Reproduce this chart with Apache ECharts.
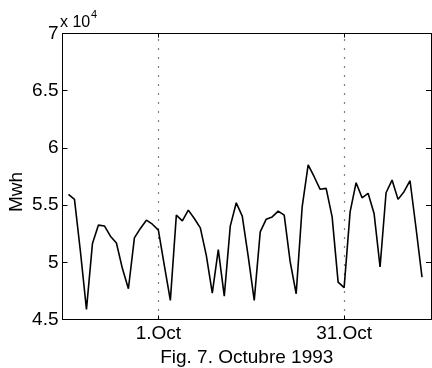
<!DOCTYPE html>
<html>
<head>
<meta charset="utf-8">
<script src="https://cdn.jsdelivr.net/npm/echarts@6/dist/echarts.min.js"></script>
<style>
  html, body { margin: 0; padding: 0; background: #fff; }
  #chart { width: 432px; height: 368px; }
</style>
</head>
<body>
<div id="chart"></div>
<script>
// Daily electricity demand, 16 Sep - 14 Nov 1993 (day 0 = 1 October)
const days = [
  -15, -14, -13, -12, -11, -10, -9, -8, -7, -6, -5, -4, -3, -2, -1,
  0, 1, 2, 3, 4, 5, 6, 7, 8, 9, 10, 11, 12, 13, 14,
  15, 16, 17, 18, 19, 20, 21, 22, 23, 24, 25, 26, 27, 28, 29,
  30, 31, 32, 33, 34, 35, 36, 37, 38, 39, 40, 41, 42, 43, 44
];
const demandMwh = [
  55940, 55500, 50900, 45880, 51640, 53250, 53180, 52280, 51690, 49450, 47690, 52130, 52960, 53680, 53330,
  52810, 49700, 46670, 54120, 53620, 54560, 53830, 53010, 50610, 47310, 51110, 47040, 53160, 55200, 54040,
  50500, 46670, 52660, 53770, 53970, 54470, 54120, 50030, 47250, 54850, 58510, 57480, 56380, 56460, 53970,
  48270, 47780, 54410, 56960, 55640, 56030, 54270, 49590, 56080, 57190, 55500, 56170, 57130, 53000, 48710
];
// Reference dates marked with dotted lines
const markDays = [0, 31];
const markLabels = ['1.Oct', '31.Oct'];
const yTicks = [45000, 50000, 55000, 60000, 65000, 70000];

const FONT = "'Liberation Sans', Arial, Helvetica, sans-serif";
const INK = '#000';

const chart = echarts.init(document.getElementById('chart'), null, { renderer: 'canvas' });

const points = days.map((d, i) => [d, demandMwh[i]]);

const baseX = {
  type: 'value',
  min: -16,
  max: 45.5,
  splitLine: { show: false },
  axisLine: { show: true, onZero: false, lineStyle: { color: INK, width: 1 } },
  axisTick: { show: true, inside: true, length: 4, customValues: markDays, lineStyle: { color: INK } }
};
const baseY = {
  type: 'value',
  min: yTicks[0],
  max: yTicks[yTicks.length - 1],
  interval: 5000,
  splitLine: { show: false },
  axisLine: { show: true, onZero: false, lineStyle: { color: INK, width: 1 } },
  axisTick: { show: true, inside: true, length: 5, lineStyle: { color: INK } }
};

chart.setOption({
  animation: false,
  backgroundColor: '#fff',
  grid: {
    left: 62.5, right: 1, top: 33.5, bottom: 48.5,
    containLabel: false, outerBoundsMode: 'none'
  },
  xAxis: [
    Object.assign({}, baseX, {
      position: 'bottom',
      axisLabel: {
        show: true,
        customValues: markDays,
        formatter: v => markLabels[markDays.indexOf(v)] || '',
        color: INK, fontFamily: FONT, fontSize: 19, margin: 5
      },
      name: 'Fig. 7. Octubre 1993',
      nameLocation: 'middle',
      nameGap: 28,
      nameTextStyle: { color: INK, fontFamily: FONT, fontSize: 19 }
    }),
    Object.assign({}, baseX, { position: 'top', axisLabel: { show: false } })
  ],
  yAxis: [
    Object.assign({}, baseY, {
      position: 'left',
      axisLabel: {
        show: true,
        formatter: v => String(v / 10000),
        color: INK, fontFamily: FONT, fontSize: 19, margin: 4
      }
    }),
    Object.assign({}, baseY, { position: 'right', axisLabel: { show: false } })
  ],
  graphic: [
    {
      type: 'text', left: 60, top: 15,
      style: { text: 'x 10', fill: INK, font: '16px ' + FONT }
    },
    {
      type: 'text', left: 91, top: 9,
      style: { text: '4', fill: INK, font: '11px ' + FONT }
    },
    {
      type: 'text', x: 17, y: 192, rotation: Math.PI / 2,
      style: { text: 'Mwh', fill: INK, font: '19px ' + FONT, align: 'center', verticalAlign: 'middle' }
    }
  ],
  series: [
    {
      type: 'line',
      data: points,
      xAxisIndex: 0,
      yAxisIndex: 0,
      showSymbol: false,
      symbol: 'none',
      lineStyle: { color: INK, width: 1.6 },
      markLine: {
        silent: true,
        symbol: 'none',
        label: { show: false },
        lineStyle: { color: INK, width: 1.2, type: [1, 8] },
        data: markDays.map(d => ({ xAxis: d }))
      }
    }
  ]
});
</script>
</body>
</html>
